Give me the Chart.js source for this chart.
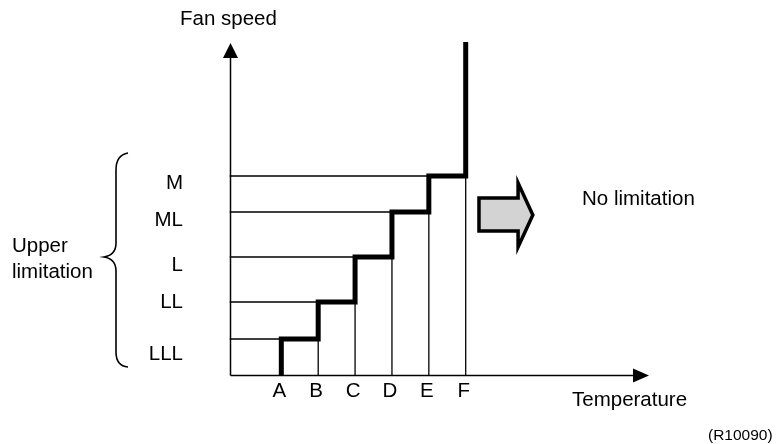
<!DOCTYPE html>
<html>
<head>
<meta charset="utf-8">
<script src="https://cdn.jsdelivr.net/npm/chart.js@4"></script>
<style>
  html, body { margin: 0; padding: 0; background: #fff; }
  #wrap { position: relative; width: 776px; height: 444px; }
</style>
</head>
<body>
<div id="wrap"><canvas id="fanChart"></canvas></div>
<script>
// temperature steps along the x axis
var stepLabels = ['A', 'B', 'C', 'D', 'E', 'F'];
var stepValues = [1, 2, 3, 4, 5, 6];

// fan speed upper limits (bottom to top)
var levelNames = ['LLL', 'LL', 'L', 'ML', 'M'];
var levelValues = [36, 73, 118, 163, 199];
var levelLabelAt = [15, 67, 104, 149, 186];
var topValue = 333;

var xMin = -0.405, xMax = 10.97;

// thick step line: up at A, then one step per temperature point, then straight up at F
var stepPoints = [{x: stepValues[0], y: 0}];
for (var i = 1; i < stepValues.length; i++) {
    stepPoints.push({x: stepValues[i], y: levelValues[i - 1]});
}
stepPoints.push({x: stepValues[stepValues.length - 1], y: topValue});

// thin guide lines for every level: from the y axis across, then down to the x axis
var guideSets = [];
for (var j = 0; j < levelValues.length; j++) {
    guideSets.push({
        data: [
            {x: xMin, y: levelValues[j]},
            {x: stepValues[j + 1], y: levelValues[j]},
            {x: stepValues[j + 1], y: 0}
        ],
        borderColor: '#000',
        borderWidth: 1.3,
        pointRadius: 0,
        fill: false,
        tension: 0
    });
}

var FONT = '20.5px "Liberation Sans", Arial, sans-serif';

var diagramPlugin = {
    id: 'diagram',
    beforeDatasetsDraw: function(chart) {
        var ctx = chart.ctx;
        var xs = chart.scales.x, ys = chart.scales.y;
        var ox = Math.round(xs.getPixelForValue(xMin)) + 0.5;
        var oy = Math.round(ys.getPixelForValue(0)) + 0.5;
        var right = xs.right, top = ys.top;
        ctx.save();
        ctx.strokeStyle = '#000';
        ctx.fillStyle = '#000';
        ctx.lineWidth = 1.5;
        // x axis with arrow
        ctx.beginPath();
        ctx.moveTo(ox, oy);
        ctx.lineTo(right - 10, oy);
        ctx.stroke();
        ctx.beginPath();
        ctx.moveTo(right, oy);
        ctx.lineTo(right - 16, oy - 7);
        ctx.lineTo(right - 16, oy + 7);
        ctx.closePath();
        ctx.fill();
        // y axis with arrow
        ctx.beginPath();
        ctx.moveTo(ox, oy);
        ctx.lineTo(ox, top + 10);
        ctx.stroke();
        ctx.beginPath();
        ctx.moveTo(ox, top + 1);
        ctx.lineTo(ox - 7.5, top + 16);
        ctx.lineTo(ox + 7.5, top + 16);
        ctx.closePath();
        ctx.fill();
        ctx.restore();
    },
    afterDatasetsDraw: function(chart) {
        var ctx = chart.ctx;
        var xs = chart.scales.x, ys = chart.scales.y;
        ctx.save();
        ctx.fillStyle = '#000';
        ctx.font = FONT;
        ctx.textBaseline = 'alphabetic';

        // step letters under the x axis
        ctx.textAlign = 'center';
        stepLabels.forEach(function(lab, k) {
            ctx.fillText(lab, xs.getPixelForValue(stepValues[k]) - 2, 397);
        });

        // level names left of the y axis
        ctx.textAlign = 'right';
        levelNames.forEach(function(name, k) {
            ctx.fillText(name, 183, ys.getPixelForValue(levelLabelAt[k]));
        });

        ctx.textAlign = 'left';
        ctx.fillText('Fan speed', 180, 25);
        ctx.fillText('Temperature', 572, 406);
        ctx.fillText('No limitation', 582, 205);
        ctx.fillText('Upper', 12, 252);
        ctx.fillText('limitation', 12, 278);
        ctx.font = '15.5px "Liberation Sans", Arial, sans-serif';
        ctx.fillText('(R10090)', 708, 440);

        // curly brace
        ctx.lineWidth = 1.6;
        ctx.strokeStyle = '#000';
        ctx.beginPath();
        ctx.moveTo(128, 153);
        ctx.quadraticCurveTo(116, 155, 116, 170);
        ctx.lineTo(116, 243);
        ctx.quadraticCurveTo(116, 255, 104, 257);
        ctx.quadraticCurveTo(116, 259, 116, 271);
        ctx.lineTo(116, 352);
        ctx.quadraticCurveTo(116, 366, 128, 367);
        ctx.stroke();

        // block arrow pointing to "No limitation"
        var ax = function(v) { return xs.getPixelForValue(v); };
        var ay = function(v) { return ys.getPixelForValue(v); };
        ctx.beginPath();
        ctx.moveTo(ax(6.36), ay(177));
        ctx.lineTo(ax(7.42), ay(177));
        ctx.lineTo(ax(7.42), ay(192));
        ctx.lineTo(ax(7.82), ay(160));
        ctx.lineTo(ax(7.42), ay(128));
        ctx.lineTo(ax(7.42), ay(144));
        ctx.lineTo(ax(6.36), ay(144));
        ctx.closePath();
        ctx.fillStyle = '#d3d3d3';
        ctx.fill();
        ctx.lineWidth = 3.5;
        ctx.lineJoin = 'miter';
        ctx.strokeStyle = '#000';
        ctx.stroke();
        ctx.restore();
    }
};

var ctx = document.getElementById('fanChart').getContext('2d');
var fanChart = new Chart(ctx, {
    type: 'line',
    data: {
        datasets: guideSets.concat([{
            label: 'Fan speed',
            data: stepPoints,
            stepped: 'after',
            borderColor: '#000',
            borderWidth: 5,
            borderCapStyle: 'butt',
            borderJoinStyle: 'miter',
            pointRadius: 0,
            fill: false
        }])
    },
    options: {
        responsive: true,
        maintainAspectRatio: false,
        animation: false,
        layout: {
            padding: {left: 229.5, right: 127, top: 42, bottom: 69}
        },
        plugins: {
            legend: {display: false},
            tooltip: {enabled: false}
        },
        scales: {
            x: {type: 'linear', min: xMin, max: xMax, display: false},
            y: {type: 'linear', min: 0, max: topValue, display: false}
        }
    },
    plugins: [diagramPlugin]
});
</script>
</body>
</html>
